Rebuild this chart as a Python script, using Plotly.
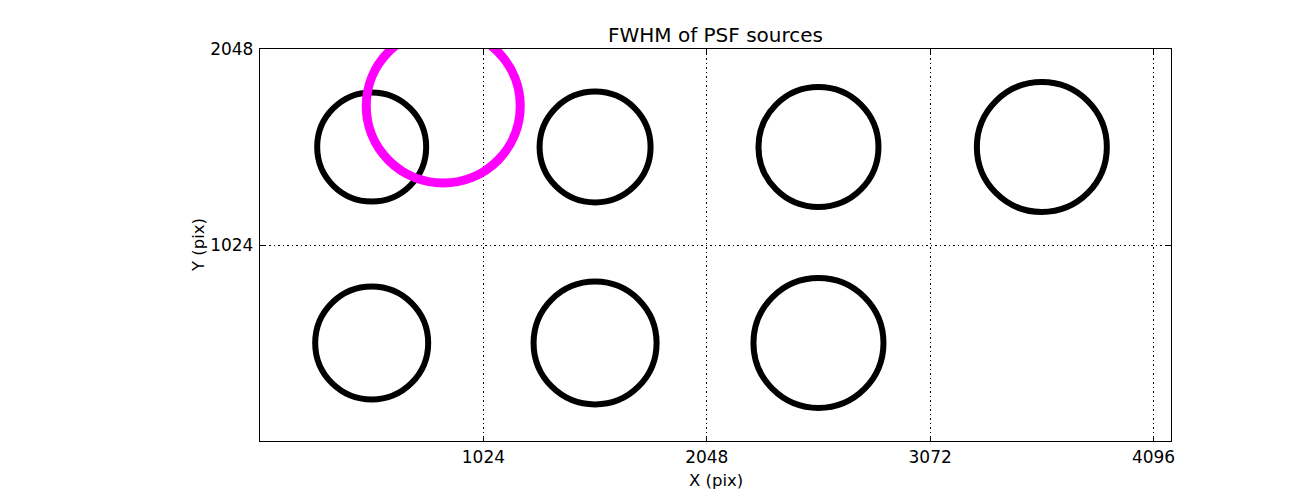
import plotly.graph_objects as go

# PSF source positions (pixels) and FWHM marker diameters (screen px)
src_x = [512, 1536, 2560, 3584, 512, 1536, 2560]
src_y = [1536, 1536, 1536, 1536, 512, 512, 512]
src_fwhm = [109, 111, 120, 130, 113, 123, 130]

ref_x = [840]
ref_y = [1750]
ref_fwhm = [154]

x_ticks = [1024, 2048, 3072, 4096]
y_ticks = [1024, 2048]

FONT = "DejaVu Sans"
W, H = 1300, 490
ML, MR, MT, MB = 260, 129, 49, 49

fig = go.Figure()
fig.add_trace(go.Scatter(
    x=src_x, y=src_y, mode="markers",
    marker=dict(symbol="circle-open", size=src_fwhm, color="black", opacity=1,
                line=dict(width=6, color="black")),
    showlegend=False, hoverinfo="skip"))
fig.add_trace(go.Scatter(
    x=ref_x, y=ref_y, mode="markers",
    marker=dict(symbol="circle-open", size=ref_fwhm, color="#ff00ff", opacity=1,
                line=dict(width=9, color="#ff00ff")),
    showlegend=False, hoverinfo="skip"))

axis_common = dict(
    showline=True, linecolor="black", linewidth=1.3, mirror="allticks",
    ticks="inside", ticklen=5, tickwidth=1, tickcolor="black",
    showgrid=True, gridcolor="black", gridwidth=1, griddash="1.5px,3px",
    zeroline=False, automargin=False,
    tickfont=dict(family=FONT, size=17, color="black"),
)

fig.update_xaxes(range=[0, 4176], tickvals=x_ticks, ticktext=[str(v) for v in x_ticks],
                 ticklabelstandoff=0, **axis_common)
fig.update_yaxes(range=[0, 2048], tickvals=y_ticks, ticktext=[str(v) for v in y_ticks],
                 ticklabelstandoff=2, **axis_common)

plot_w = W - ML - MR
plot_h = H - MT - MB
fig.add_annotation(text="X (pix)", xref="paper", yref="paper",
                   x=0.5, y=-(480 - (H - MB)) / plot_h, xanchor="center", yanchor="middle",
                   showarrow=False, font=dict(family=FONT, size=16.5, color="black"))
fig.add_annotation(text="Y (pix)", xref="paper", yref="paper",
                   x=-(ML - 198) / plot_w, y=0.5, xanchor="center", yanchor="middle",
                   textangle=-90, showarrow=False,
                   font=dict(family=FONT, size=16.5, color="black"))

fig.update_layout(
    width=W, height=H,
    margin=dict(l=ML, r=MR, t=MT, b=MB, autoexpand=False),
    paper_bgcolor="white", plot_bgcolor="white",
    title=dict(text="FWHM of PSF sources", x=(ML + plot_w / 2) / W, xanchor="center",
               y=1 - 35 / H, yanchor="middle",
               font=dict(family=FONT, size=20, color="black")),
)

fig.write_html("out.html", config={"displayModeBar": False},
               post_script="document.body.style.margin='0';document.body.style.padding='0';")
